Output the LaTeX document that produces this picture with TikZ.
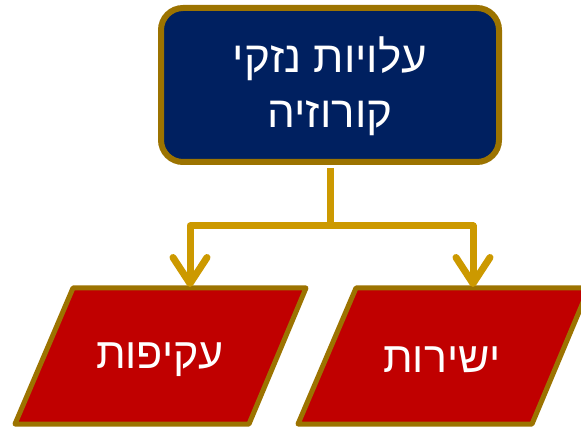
\documentclass[tikz,border=0pt]{standalone}
\usepackage{fontspec}
\setmainfont{Liberation Sans}
\newfontfamily\hebfont[Script=Hebrew]{Liberation Sans}
\TeXXeTstate=1
\usetikzlibrary{arrows.meta}
\definecolor{navy}{HTML}{002060}
\definecolor{rim}{HTML}{9C7300}
\definecolor{linkgold}{HTML}{CC9900}
\definecolor{brick}{HTML}{C00000}

\begin{document}
\begin{tikzpicture}[x=1pt, y=1pt,
		costbox/.style={draw=rim, line width=6pt, fill=navy, rounded corners=22pt,
			minimum width=338pt, minimum height=154pt, text=white, align=center,
			font=\hebfont\fontsize{44}{55}\selectfont},
		kindbox/.style={draw=rim, line width=5pt, fill=brick, line join=round},
		kindtext/.style={text=white, font=\hebfont\fontsize{43}{50}\selectfont},
		connector/.style={draw=linkgold, line width=7pt, line join=round},
		tip/.style={-{Straight Barb[round, length=26pt, width=34pt]}}]
		\useasboundingbox (0, 0) rectangle (581, -430);

		\node[costbox, text depth=6pt] (costs) at (330, -85)
			{\beginR עלויות נזקי\endR\\\beginR קורוזיה\endR};

		\draw[kindbox] (73, -288) -- (306, -288) -- (249, -424) -- (15, -424) -- cycle;
		\draw[kindbox] (356, -288) -- (589, -288) -- (532, -424) -- (298, -424) -- cycle;
		\node[kindtext] (indirect) at (160, -360) {\beginR עקיפות\endR};
		\node[kindtext] (direct) at (442, -360) {\beginR ישירות\endR};

		\coordinate (split) at (330, -226);
		\coordinate (indtop) at (190, -287);
		\coordinate (dirtop) at (473, -287);
		\draw[connector, shorten <=3pt] (costs.south) -- (split);
		\draw[connector, tip] (split) -| (indtop);
		\draw[connector, tip] (split) -| (dirtop);
	\end{tikzpicture}
\end{document}
